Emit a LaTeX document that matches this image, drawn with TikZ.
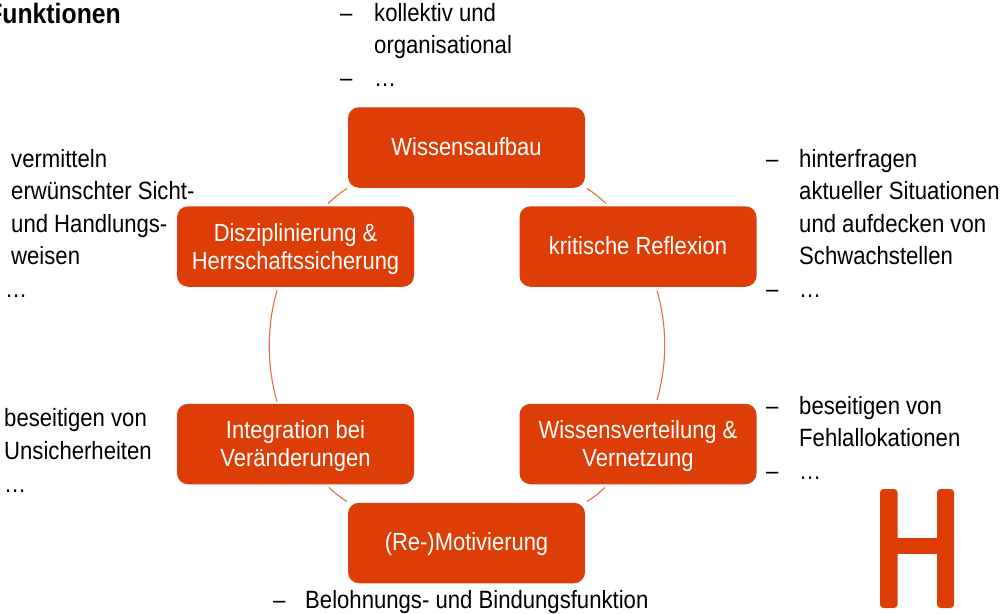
\documentclass[tikz,border=0pt]{standalone}
\usepackage{fontspec}
\setmainfont[FakeStretch=0.885]{Liberation Sans}
\definecolor{hsorange}{HTML}{DD3E07}
\definecolor{arcorange}{HTML}{EA6A45}
\newcommand{\upstrut}[1]{\rule{0pt}{#1}}
\newcommand{\dnstrut}[1]{\rule[-#1]{0pt}{0pt}}
\tikzset{
  x=1pt,y=-1pt,
  boxnode/.style={fill=hsorange,draw=none,rounded corners=11pt,minimum width=237pt,minimum height=80.5pt,inner sep=0pt,text=white,align=center,font=\fontsize{24.8}{28}\selectfont},
  bodytext/.style={anchor=base west,inner sep=0pt,text=black,font=\fontsize{25}{32}\selectfont},
  conn/.style={draw=arcorange,line width=1.1pt},
  hbar/.style={fill=hsorange,rounded corners=3.5pt}
}
\begin{document}
\begin{tikzpicture}
\useasboundingbox (0,0) rectangle (1000,613);
\clip (0,0) rectangle (1000,613);
\node[boxnode] (wa) at (466.5,147.5) {Wissensaufbau\dnstrut{2.5pt}};
\node[boxnode] (dh) at (295.5,246.5) {\upstrut{23pt}Disziplinierung \&\\Herrschaftssicherung};
\node[boxnode] (kr) at (638,246.5) {kritische Reflexion\dnstrut{2.5pt}};
\node[boxnode] (iv) at (295.5,444) {\upstrut{23pt}Integration bei\\Veränderungen};
\node[boxnode] (wv) at (638,444) {\upstrut{23pt}Wissensverteilung \&\\Vernetzung};
\node[boxnode] (mo) at (466.5,543) {\upstrut{21pt}(Re-)Motivierung};

\draw[conn] ([xshift=-119.5pt,yshift=-0.5pt]wa.south) to[bend right=5] ([xshift=32.5pt,yshift=2.5pt]dh.north);
\draw[conn] ([xshift=120.5pt,yshift=-0.5pt]wa.south) to[bend left=5] ([xshift=-32pt,yshift=2.5pt]kr.north);
\draw[conn] ([xshift=-18.5pt,yshift=-3.5pt]dh.south) to[bend right=16,looseness=.87] ([xshift=-18.5pt,yshift=2pt]iv.north);
\draw[conn] ([xshift=19pt,yshift=-3.5pt]kr.south) to[bend left=16,looseness=.87] ([xshift=19pt,yshift=3.5pt]wv.north);
\draw[conn] ([xshift=33.5pt,yshift=-3pt]iv.south) to[bend right=5] ([xshift=-119.5pt,yshift=1pt]mo.north);
\draw[conn] ([xshift=-33pt,yshift=-3pt]wv.south) to[bend left=5] ([xshift=120.5pt,yshift=1pt]mo.north);

% top
\node[bodytext] (t0) at (340,21) {–};
\node[bodytext] (t1) at (374,21) {kollektiv und};
\node[bodytext] (t2) at (374,53) {organisational};
\node[bodytext] (t3) at (340,86) {–};
\node[bodytext] (t4) at (374,86) {…};
% left upper
\node[bodytext] (l1) at (11,167) {vermitteln};
\node[bodytext] (l2) at (11,199) {erwünschter Sicht-};
\node[bodytext] (l3) at (11,232) {und Handlungs-};
\node[bodytext] (l4) at (11,264) {weisen};
\node[bodytext] (l5) at (5,297) {…};
% left lower
\node[bodytext] (m1) at (4,426) {beseitigen von};
\node[bodytext] (m2) at (4,459) {Unsicherheiten};
\node[bodytext] (m3) at (4,492) {…};
% right upper
\node[bodytext] (r0) at (766,167) {–};
\node[bodytext] (r1) at (799,167) {hinterfragen};
\node[bodytext] (r2) at (799,199) {aktueller Situationen};
\node[bodytext] (r3) at (799,232) {und aufdecken von};
\node[bodytext] (r4) at (799,264) {Schwachstellen};
\node[bodytext] (r5) at (766,297) {–};
\node[bodytext] (r6) at (799,297) {…};
% right lower
\node[bodytext] (s0) at (766,414) {–};
\node[bodytext] (s1) at (799,414) {beseitigen von};
\node[bodytext] (s2) at (799,446) {Fehlallokationen};
\node[bodytext] (s3) at (766,479) {–};
\node[bodytext] (s4) at (799,479) {…};
% bottom
\node[bodytext] (b0) at (273,608) {–};
\node[bodytext] (b1) at (305,608) {Belohnungs- und Bindungsfunktion};
% title
\node[anchor=base east,inner sep=0pt,font=\fontsize{28}{30}\selectfont\bfseries] (ti) at (121,23) {Funktionen};
% logo
\fill[hsorange] (890,538) rectangle (945,554);
\fill[hbar] (880,489) rectangle (897.5,608);
\fill[hbar] (937,489) rectangle (954,608);
\end{tikzpicture}
\end{document}
